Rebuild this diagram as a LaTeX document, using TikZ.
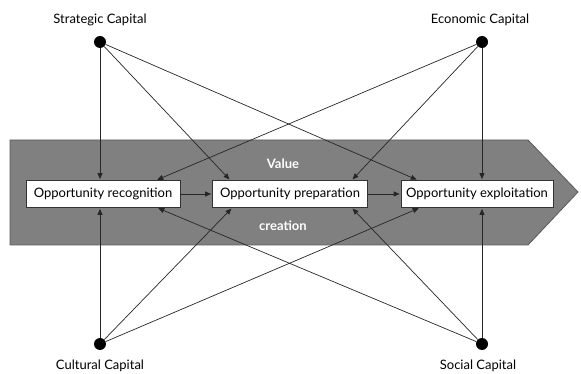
\documentclass[tikz,border=0pt]{standalone}
\usepackage{fontspec}
\setmainfont{Lato}
\usepackage{tikz}
\usetikzlibrary{arrows.meta}
\tikzstyle{capital} = [circle, fill=black, minimum size=12pt, inner sep=0pt]
\tikzstyle{phase} = [draw=black!80, fill=white, line width=0.7pt, minimum height=27pt, inner sep=2pt, font=\fontsize{13}{15}\selectfont]
\tikzstyle{arrow} = [-{Triangle[length=6pt, width=5pt]}, draw=black!85, line width=0.7pt, shorten >=1pt]
\tikzstyle{band} = [fill=black!50, draw=black!65, line width=0.8pt]
\tikzstyle{label} = [font=\fontsize{13}{15}\selectfont]

\begin{document}
\begin{tikzpicture}[x=1pt, y=-1pt]
	\useasboundingbox (0,0) rectangle (581,374);
	% value creation band
	\draw[band] (10,140) -- (528,140) -- (578,192) -- (528,245) -- (10,245) -- cycle;
	\node[text=white, label](value) at (283,164){\textbf{Value}};
	\node[text=white, label](creation) at (283,226){\textbf{creation}};

	\node[phase, minimum width=154pt](recog) at (103,194){Opportunity recognition};
	\node[phase, minimum width=155pt](prep) at (290,194){Opportunity preparation};
	\node[phase, minimum width=152pt](expl) at (477,194){Opportunity exploitation};
	\draw[arrow](recog) -- (prep);
	\draw[arrow](prep) -- (expl);

	\node[capital](strat) at (100,42){};
	\node[capital](econ) at (482,42){};
	\node[capital](cult) at (100,344){};
	\node[capital](soc) at (482,344){};
	\node[label](stratlabel) at (100,20){Strategic Capital};
	\node[label](econlabel) at (480,20){Economic Capital};
	\node[label](cultlabel) at (100,366){Cultural Capital};
	\node[label](soclabel) at (478,366){Social Capital};

	% top capitals
	\draw[arrow](strat) -- (strat |- recog.north);
	\draw[arrow](strat) -- ([xshift=18pt]prep.north west);
	\draw[arrow](strat) -- ([xshift=17pt]expl.north west);
	\draw[arrow](econ) -- ([xshift=-24pt]recog.north east);
	\draw[arrow](econ) -- ([xshift=-16pt]prep.north east);
	\draw[arrow](econ) -- (econ |- expl.north);

	% bottom capitals
	\draw[arrow](cult) -- (cult |- recog.south);
	\draw[arrow](cult) -- ([xshift=20pt]prep.south west);
	\draw[arrow](cult) -- ([xshift=19pt]expl.south west);
	\draw[arrow](soc) -- ([xshift=-23pt]recog.south east);
	\draw[arrow](soc) -- ([xshift=-16pt]prep.south east);
	\draw[arrow](soc) -- (soc |- expl.south);
\end{tikzpicture}
\end{document}
